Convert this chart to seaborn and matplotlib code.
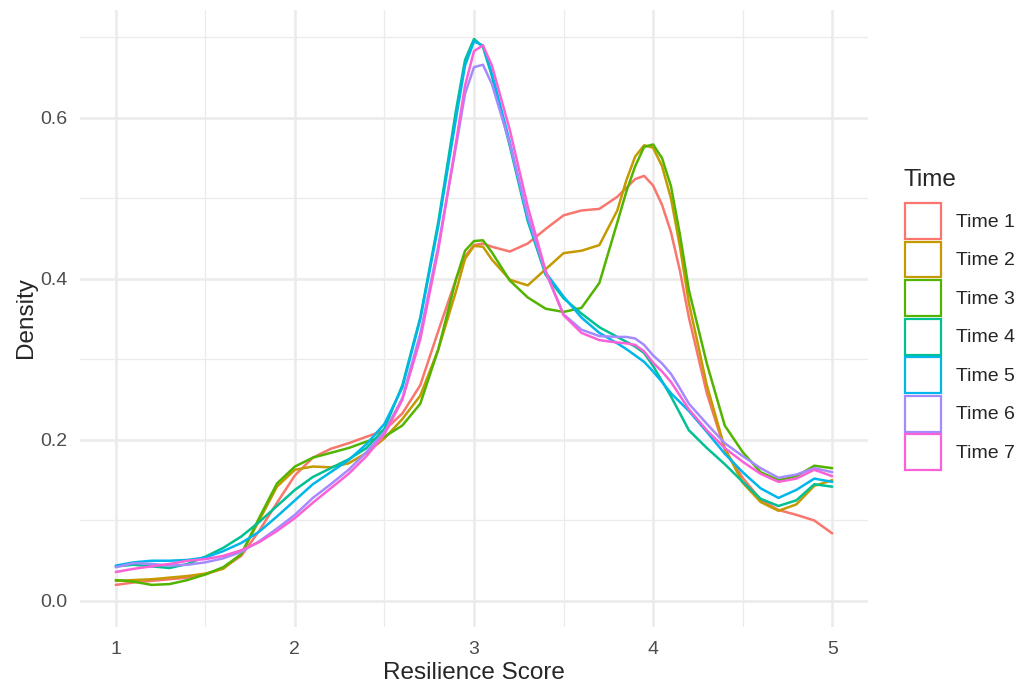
import matplotlib.pyplot as plt
import pandas as pd
import seaborn as sns
from matplotlib.patches import Patch

# Density curves (x = resilience score)
score = [1.0, 1.1, 1.2, 1.3, 1.4, 1.5, 1.6, 1.7, 1.8, 1.9,
         2.0, 2.1, 2.2, 2.3, 2.4, 2.5, 2.6, 2.7, 2.8, 2.9,
         2.95, 3.0, 3.05, 3.1,
         3.2, 3.3, 3.4, 3.5, 3.6, 3.7, 3.8, 3.85, 3.9,
         3.95, 4.0, 4.05, 4.1, 4.15,
         4.2, 4.3, 4.4, 4.5, 4.6, 4.7, 4.8, 4.9, 5.0]

time_1 = [.020, .023, .025, .027, .029, .033, .041, .056, .087, .122,
          .156, .178, .189, .196, .204, .212, .233, .268, .335, .400,
          .428, .442, .444, .440,
          .434, .444, .462, .479, .485, .487, .502, .513, .524,
          .528, .516, .492, .458, .410,
          .352, .258, .188, .153, .126, .113, .107, .100, .084]

time_2 = [.025, .026, .027, .029, .031, .034, .040, .058, .100, .142,
          .163, .167, .166, .171, .184, .202, .226, .255, .312, .385,
          .425, .441, .440, .424,
          .399, .392, .412, .432, .435, .442, .485, .522, .552,
          .566, .563, .540, .500, .440,
          .370, .268, .190, .147, .123, .112, .120, .143, .150]

time_3 = [.026, .024, .020, .021, .026, .033, .042, .058, .103, .146,
          .167, .178, .184, .190, .198, .204, .218, .245, .312, .400,
          .435, .447, .448, .433,
          .398, .377, .363, .359, .364, .395, .470, .508, .540,
          .564, .567, .550, .515, .455,
          .386, .295, .218, .185, .160, .150, .155, .168, .165]

time_4 = [.043, .045, .043, .041, .046, .055, .066, .080, .098, .118,
          .138, .154, .165, .176, .190, .214, .268, .352, .470, .610,
          .672, .698, .688, .652,
          .565, .472, .405, .376, .357, .340, .328, .322, .316,
          .308, .292, .273, .254, .233,
          .212, .190, .170, .148, .127, .118, .125, .145, .142]

time_5 = [.044, .048, .050, .050, .051, .054, .062, .072, .086, .105,
          .125, .145, .160, .175, .195, .220, .265, .350, .465, .600,
          .665, .695, .690, .655,
          .570, .475, .408, .378, .352, .333, .320, .313, .305,
          .297, .285, .272, .258, .247,
          .236, .210, .183, .160, .140, .128, .138, .152, .148]

time_6 = [.042, .047, .046, .044, .045, .048, .053, .061, .074, .090,
          .107, .128, .145, .163, .185, .210, .252, .332, .440, .565,
          .630, .663, .666, .642,
          .568, .478, .408, .356, .337, .329, .328, .328, .326,
          .318, .305, .295, .282, .264,
          .245, .220, .196, .180, .165, .153, .157, .165, .160]

time_7 = [.036, .040, .043, .046, .050, .052, .056, .063, .073, .087,
          .103, .122, .140, .158, .180, .207, .250, .325, .435, .570,
          .640, .683, .690, .665,
          .585, .490, .410, .355, .333, .324, .321, .320, .318,
          .310, .296, .285, .272, .255,
          .238, .212, .190, .173, .158, .148, .152, .163, .155]

times = ['Time 1', 'Time 2', 'Time 3', 'Time 4', 'Time 5', 'Time 6', 'Time 7']
series = [time_1, time_2, time_3, time_4, time_5, time_6, time_7]
colors = ['#F8766D', '#C49A00', '#53B400', '#00C094', '#00B6EB', '#A58AFF', '#FB61D7']

x_ticks = [1, 2, 3, 4, 5]
y_ticks = [0.0, 0.2, 0.4, 0.6]
y_tick_labels = ['0.0', '0.2', '0.4', '0.6']

# long format for seaborn
df = pd.concat([pd.DataFrame({'score': score, 'density': vals, 'time': t})
                for t, vals in zip(times, series)], ignore_index=True)

sns.set_theme(style='white')
plt.rcParams['font.family'] = ['Liberation Sans', 'DejaVu Sans']

W, H = 1016, 686
fig = plt.figure(figsize=(W / 100, H / 100), dpi=100)
ax = fig.add_axes([80 / W, 1 - 627 / H, (868 - 80) / W, (627 - 10) / H])

sns.lineplot(data=df, x='score', y='density', hue='time', hue_order=times,
             palette=colors, linewidth=1.8, estimator=None, sort=False,
             legend=False, ax=ax)

ax.set_xlim(0.8, 5.2)
ax.set_ylim(-0.0323, 0.734)
ax.set_xticks(x_ticks)
ax.set_xticklabels([str(v) for v in x_ticks])
ax.set_yticks(y_ticks)
ax.set_yticklabels(y_tick_labels)
ax.set_xticks([1.5, 2.5, 3.5, 4.5], minor=True)
ax.set_yticks([0.1, 0.3, 0.5, 0.7], minor=True)
ax.set_axisbelow(True)
ax.grid(which='major', color='#EBEBEB', linewidth=1.8)
ax.grid(which='minor', color='#EBEBEB', linewidth=0.9)
for s in ax.spines.values():
    s.set_visible(False)
ax.tick_params(which='both', length=0)
ax.tick_params(axis='x', labelsize=14, labelcolor='#4D4D4D', pad=10)
ax.tick_params(axis='y', labelsize=14, labelcolor='#4D4D4D', pad=9)

ax.set_xlabel('')
ax.set_ylabel('')
fig.text(474 / W, 1 - 673 / H, 'Resilience Score', fontsize=17.5,
         ha='center', va='center')
fig.text(26 / W, 1 - 318 / H, 'Density', fontsize=17.5, rotation=90,
         ha='center', va='center')

# legend: outlined square keys like geom_density
handles = [Patch(facecolor='none', edgecolor=c, linewidth=1.6) for c in colors]
fig.text(904 / W, 1 - 180 / H, 'Time', fontsize=17.5, ha='left', va='center')
fig.legend(handles, times, loc='upper left', bbox_to_anchor=(905 / W, 1 - 203 / H),
           frameon=False, fontsize=14, handlelength=1.85, handleheight=2.47,
           handletextpad=0.77, labelspacing=0.13, borderpad=0, borderaxespad=0)

fig.savefig('out.png', dpi=100)
